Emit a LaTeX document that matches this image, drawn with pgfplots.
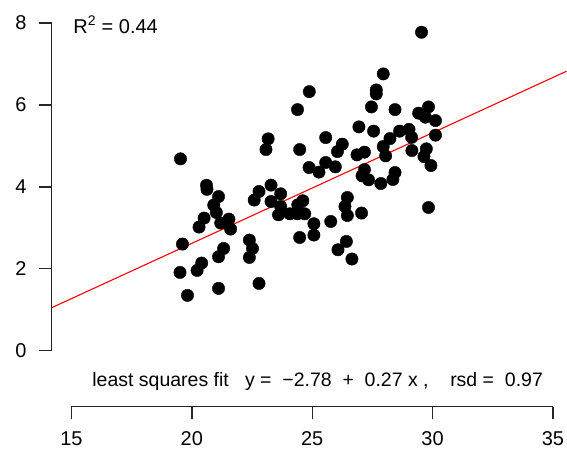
\documentclass[border=0pt]{standalone}
\usepackage{pgfplots}
\pgfplotsset{compat=1.18}
\usepackage{fontspec}
\setmainfont{Liberation Sans}
\newcommand{\bigf}{\fontsize{20}{24}\selectfont}
\newcommand{\midf}{\fontsize{19.5}{23}\selectfont}
\begin{document}
\begin{tikzpicture}
\begin{axis}[hide axis, scale only axis, x=24.1pt, y=41pt,
  xmin=12.033, xmax=35.56, ymin=-2.561, ymax=8.561, clip=false]
\path (axis cs:12.033,-2.561) rectangle (axis cs:35.56,8.561);
% fit line
\addplot[red, line width=1.1pt] coordinates {(14.178,1.048) (35.56,6.821)};
% points
\addplot[only marks, mark=*, mark size=6.2pt, black] coordinates {
(19.53,4.683) (23.17,5.171) (23.08,4.910) (24.48,4.910) (25.56,5.202)
(26.25,5.041) (26.05,4.861) (24.87,4.471) (25.28,4.359) (25.56,4.593)
(25.96,4.488) (20.61,4.037) (20.63,3.939) (21.11,3.763) (20.91,3.554)
(21.02,3.373) (20.51,3.237) (20.30,3.017) (21.20,3.115) (21.54,3.212)
(21.61,2.968) (19.61,2.602) (19.51,1.910) (19.82,1.349) (20.22,1.959)
(20.41,2.139) (21.11,2.293) (21.32,2.495) (21.11,1.520) (22.39,2.700)
(22.52,2.495) (22.39,2.276) (22.79,1.641) (22.79,3.885) (22.59,3.676)
(23.29,4.041) (23.69,3.829) (23.29,3.641) (23.69,3.520) (23.60,3.317)
(24.07,3.341) (24.39,3.341) (24.69,3.341) (24.61,3.659) (24.40,3.561)
(25.07,3.098) (25.07,2.822) (24.48,2.763) (25.77,3.154) (26.07,2.463)
(26.42,2.666) (26.65,2.237) (29.54,7.773) (27.95,6.756) (27.66,6.366)
(27.66,6.268) (24.88,6.324) (24.39,5.885) (27.46,5.951) (28.44,5.885)
(29.42,5.798) (29.83,5.951) (29.70,5.700) (30.12,5.617) (26.94,5.463)
(27.55,5.359) (28.63,5.359) (29.02,5.402) (29.13,5.207) (30.12,5.261)
(28.23,5.178) (26.86,4.780) (27.17,4.846) (27.95,4.983) (28.05,4.756)
(29.74,4.927) (29.64,4.739) (29.14,4.885) (29.93,4.520) (27.17,4.422)
(27.07,4.268) (27.34,4.171) (27.85,4.080) (28.44,4.349) (28.35,4.178)
(29.83,3.495) (26.46,3.739) (26.36,3.520) (26.46,3.300) (27.05,3.359)
};
% y axis
\draw[line width=1.4pt, black!85] (axis cs:14.178,0) -- (axis cs:14.178,8);
\pgfplotsinvokeforeach{0,2,4,6,8}{
  \draw[line width=1.4pt, black!85] (axis cs:14.178,#1) -- (axis cs:13.668,#1);
  \node[anchor=east, inner sep=0pt] at (axis cs:13.141,#1) {\bigf #1};
}
% x axis
\draw[line width=1.4pt, black!85] (axis cs:15,-1.366) -- (axis cs:35,-1.366);
\pgfplotsinvokeforeach{15,20,25,30,35}{
  \draw[line width=1.4pt, black!85] (axis cs:#1,-1.366) -- (axis cs:#1,-1.666);
  \node[anchor=north, inner sep=0pt] at (axis cs:#1,-1.976) {\bigf #1};
}
% texts
\node[anchor=base west, inner sep=0pt] at (axis cs:15.075,7.749) {\bigf R\textsuperscript{2} = 0.44};
\node[anchor=base west, inner sep=0pt] at (axis cs:15.863,-0.871) {\midf least squares fit~~~y~=~~−2.78~~+~~0.27~x~,~~~~rsd~=~~0.97};
\end{axis}
\end{tikzpicture}
\end{document}
